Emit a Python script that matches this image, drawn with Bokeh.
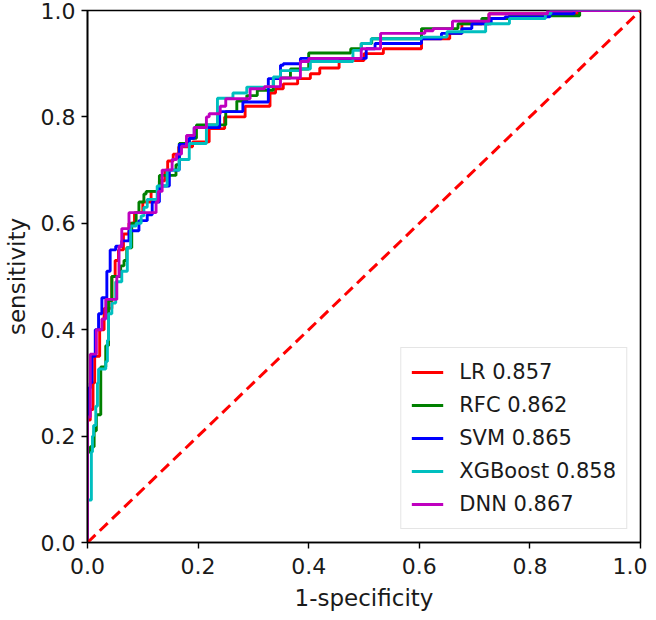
from bokeh.plotting import figure
from bokeh.models import Range1d, FixedTicker, PrintfTickFormatter, Legend
from bokeh.embed import file_html
from bokeh.resources import INLINE

# ---- data ----
models = ["LR", "RFC", "SVM", "XGBoost", "DNN"]
aucs = ["0.857", "0.862", "0.865", "0.858", "0.867"]
colors = ["#ff0000", "#008000", "#0000ff", "#00bfbf", "#bf00bf"]

lr_fpr = [0, 0, 0.005, 0.01, 0.013, 0.022, 0.03, 0.044, 0.05, 0.056, 0.065, 0.075, 0.085, 0.10,
          0.115, 0.13, 0.14, 0.145, 0.155, 0.165, 0.19, 0.22, 0.248, 0.285, 0.33, 0.34, 0.354,
          0.38, 0.403, 0.42, 0.455, 0.50, 0.535, 0.604, 0.655, 0.677, 0.726, 0.887, 1.0]
lr_tpr = [0, 0.23, 0.25, 0.30, 0.35, 0.40, 0.44, 0.50, 0.53, 0.55, 0.58, 0.60, 0.62, 0.64,
          0.66, 0.68, 0.70, 0.717, 0.73, 0.744, 0.753, 0.778, 0.80, 0.82, 0.845, 0.853, 0.862,
          0.872, 0.881, 0.892, 0.906, 0.919, 0.928, 0.947, 0.957, 0.975, 0.994, 1.0, 1.0]

rfc_fpr = [0, 0, 0.005, 0.012, 0.016, 0.024, 0.033, 0.038, 0.044, 0.06, 0.066, 0.071, 0.08,
           0.088, 0.093, 0.102, 0.106, 0.13, 0.16, 0.166, 0.184, 0.197, 0.25, 0.27, 0.288, 0.307,
           0.336, 0.367, 0.40, 0.476, 0.495, 0.514, 0.604, 0.67, 0.713, 0.763, 0.89, 1.0]
rfc_tpr = [0, 0.17, 0.18, 0.21, 0.24, 0.33, 0.37, 0.455, 0.50, 0.52, 0.53, 0.554, 0.60,
           0.62, 0.64, 0.655, 0.66, 0.69, 0.71, 0.75, 0.76, 0.785, 0.81, 0.83, 0.84, 0.85,
           0.873, 0.89, 0.92, 0.928, 0.938, 0.947, 0.966, 0.975, 0.985, 0.99, 1.0, 1.0]

svm_fpr = [0, 0, 0.005, 0.008, 0.014, 0.02, 0.026, 0.035, 0.041, 0.051, 0.062, 0.075, 0.093,
           0.108, 0.117, 0.13, 0.148, 0.166, 0.184, 0.193, 0.239, 0.281, 0.327, 0.349, 0.354,
           0.385, 0.504, 0.52, 0.604, 0.64, 0.677, 0.695, 0.73, 0.755, 0.836, 0.88, 1.0]
svm_tpr = [0, 0.29, 0.30, 0.35, 0.40, 0.43, 0.46, 0.51, 0.55, 0.557, 0.567, 0.586, 0.605,
           0.616, 0.64, 0.67, 0.70, 0.748, 0.76, 0.78, 0.81, 0.828, 0.872, 0.897, 0.90,
           0.91, 0.928, 0.938, 0.947, 0.957, 0.966, 0.975, 0.985, 0.988, 0.994, 1.0, 1.0]

xgb_fpr = [0, 0, 0.007, 0.009, 0.011, 0.015, 0.018, 0.02, 0.033, 0.036, 0.038, 0.044, 0.051,
           0.062, 0.072, 0.078, 0.088, 0.097, 0.102, 0.108, 0.126, 0.144, 0.166, 0.184, 0.215,
           0.235, 0.263, 0.288, 0.325, 0.336, 0.349, 0.385, 0.403, 0.48, 0.495, 0.513, 0.604,
           0.65, 0.72, 0.763, 0.828, 0.838, 1.0]
xgb_tpr = [0, 0.08, 0.17, 0.20, 0.22, 0.256, 0.30, 0.326, 0.34, 0.38, 0.43, 0.45, 0.49,
           0.51, 0.554, 0.595, 0.60, 0.614, 0.63, 0.645, 0.67, 0.70, 0.72, 0.75, 0.785,
           0.835, 0.845, 0.856, 0.857, 0.875, 0.887, 0.89, 0.904, 0.925, 0.938, 0.947, 0.95,
           0.96, 0.975, 0.985, 0.994, 1.0, 1.0]

dnn_fpr = [0, 0, 0.005, 0.016, 0.026, 0.033, 0.053, 0.057, 0.062, 0.075, 0.124, 0.128, 0.135,
           0.153, 0.161, 0.17, 0.179, 0.193, 0.215, 0.22, 0.24, 0.25, 0.294, 0.32, 0.349,
           0.385, 0.40, 0.495, 0.53, 0.61, 0.625, 0.66, 0.726, 0.832, 1.0]
dnn_tpr = [0, 0.236, 0.354, 0.40, 0.42, 0.457, 0.50, 0.557, 0.59, 0.62, 0.64, 0.66, 0.70,
           0.72, 0.73, 0.745, 0.765, 0.78, 0.80, 0.806, 0.82, 0.834, 0.853, 0.857, 0.873,
           0.904, 0.91, 0.928, 0.957, 0.962, 0.966, 0.98, 0.994, 1.0, 1.0]

chance_x = [0, 1]
chance_y = [0, 1]

tick_values = [0.0, 0.2, 0.4, 0.6, 0.8, 1.0]
x_label = "1-specificity"
y_label = "sensitivity"

series = [(lr_fpr, lr_tpr), (rfc_fpr, rfc_tpr), (svm_fpr, svm_tpr),
          (xgb_fpr, xgb_tpr), (dnn_fpr, dnn_tpr)]

FONT = "DejaVu Sans"

p = figure(frame_width=553, frame_height=532, min_border_left=81, min_border_right=7,
           min_border_top=10, min_border_bottom=68,
           x_range=Range1d(0, 1), y_range=Range1d(0, 1),
           output_backend="svg", toolbar_location=None)

p.xgrid.visible = False
p.ygrid.visible = False
p.outline_line_color = "black"
p.outline_line_width = 1.6
p.outline_line_alpha = 1.0
p.background_fill_color = "white"
p.border_fill_color = "white"

for ax in (p.xaxis[0], p.yaxis[0]):
    ax.ticker = FixedTicker(ticks=tick_values, minor_ticks=[])
    ax.formatter = PrintfTickFormatter(format="%.1f")
    ax.major_label_text_font = FONT
    ax.major_label_text_font_size = "22px"
    ax.major_label_text_color = "#1a1a1a"
    ax.axis_label_text_font = FONT
    ax.axis_label_text_font_size = "23px"
    ax.axis_label_text_font_style = "normal"
    ax.axis_label_text_color = "#1a1a1a"
    ax.major_tick_in = 0
    ax.major_tick_out = 6
    ax.major_tick_line_width = 1.4
    ax.minor_tick_line_color = None
    ax.axis_line_width = 1.6

p.xaxis.major_label_standoff = 9
p.yaxis.major_label_standoff = 6
p.xaxis.axis_label_standoff = 8
p.yaxis.axis_label_standoff = 8
p.xaxis.axis_label = x_label
p.yaxis.axis_label = y_label

renderers = []
for (fx, fy), c, m, a in zip(series, colors, models, aucs):
    r = p.step(fx, fy, mode="after", line_color=c, line_width=2.9)
    renderers.append((f"{m} {a}", [r]))

p.line(chance_x, chance_y, line_color="#ff0000", line_width=3, line_dash="11 6")

legend = Legend(items=renderers, location="bottom_right")
legend.label_text_font = FONT
legend.label_text_font_size = "21px"
legend.label_text_color = "#1a1a1a"
legend.glyph_width = 32
legend.glyph_height = 28
legend.label_height = 28
legend.label_standoff = 16
legend.spacing = 5
legend.padding = 10
legend.margin = 13
legend.border_line_color = "#cccccc"
legend.border_line_width = 1.2
legend.background_fill_color = "white"
legend.background_fill_alpha = 0.85
p.add_layout(legend)

open("out.html", "w").write(file_html(p, INLINE))
